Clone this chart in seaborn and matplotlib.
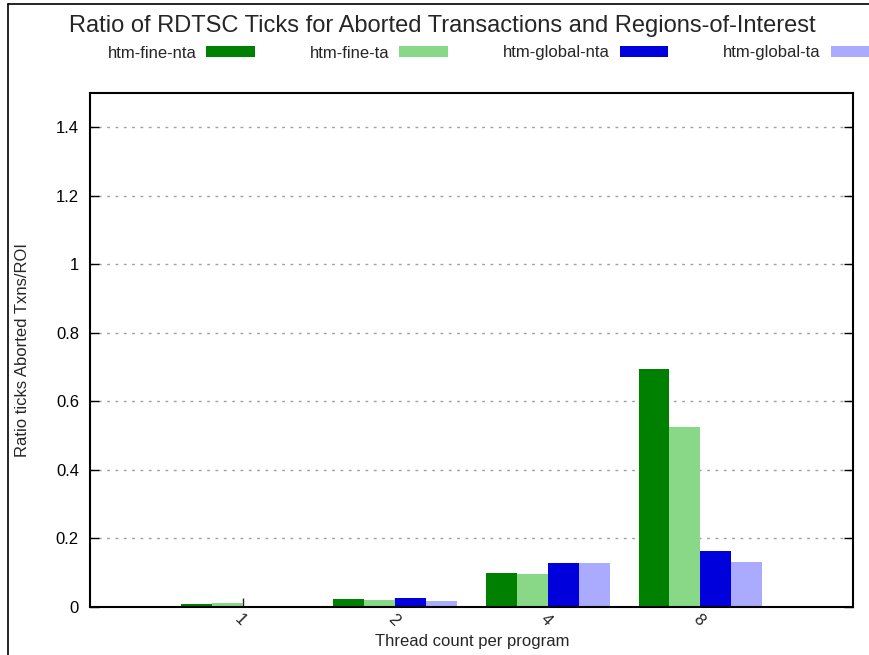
import pandas as pd
import seaborn as sns
import matplotlib.pyplot as plt
from matplotlib.lines import Line2D

threads = ['1', '2', '4', '8']
fine_nta = [0.009, 0.023, 0.099, 0.694]
fine_ta = [0.011, 0.020, 0.096, 0.525]
global_nta = [0.004, 0.026, 0.128, 0.163]
global_ta = [0.003, 0.017, 0.128, 0.131]
series = ['htm-fine-nta', 'htm-fine-ta', 'htm-global-nta', 'htm-global-ta']
colors = ['#008000', '#88d888', '#0000dd', '#aaaaff']

rows = []
for name, vals in zip(series, [fine_nta, fine_ta, global_nta, global_ta]):
    for t, v in zip(threads, vals):
        rows.append({'threads': t, 'ratio': v, 'series': name})
df = pd.DataFrame(rows)

sns.set_style('white')
plt.rcParams['font.family'] = ['Liberation Sans', 'DejaVu Sans']
plt.rcParams['font.size'] = 12

fig = plt.figure(figsize=(8.7, 6.55), dpi=100)
ax = fig.add_axes([90 / 870, 1 - 607 / 655, 763 / 870, 514 / 655])

sns.barplot(data=df, x='threads', y='ratio', hue='series', palette=colors,
            saturation=1, width=0.81, linewidth=0, ax=ax, legend=True)

ax.set_xlim(-1, 4)
ax.set_ylim(0, 1.5)
ax.set_yticks([0, 0.2, 0.4, 0.6, 0.8, 1.0, 1.2, 1.4])
ax.set_yticklabels(['0', '0.2', '0.4', '0.6', '0.8', '1', '1.2', '1.4'])
for y in [0.2, 0.4, 0.6, 0.8, 1.0, 1.2, 1.4]:
    ax.axhline(y, color='#a0a0a0', lw=1, ls=(0, (2, 4)), zorder=0)

ax.tick_params(axis='y', direction='in', length=6.5, width=1, left=True, right=True,
               labelsize=12, pad=8, colors='black')
ax.tick_params(axis='x', direction='in', length=6.5, width=1, bottom=True,
               labelsize=12, pad=3)
for lab in ax.get_xticklabels():
    lab.set_rotation(-45)
    lab.set_ha('left')
    lab.set_va('top')
    lab.set_rotation_mode('anchor')

for s in ax.spines.values():
    s.set_color('black')
    s.set_linewidth(1.5)

ax.set_xlabel('Thread count per program', fontsize=12)
ax.set_ylabel('Ratio ticks Aborted Txns/ROI', fontsize=12)
ax.xaxis.set_label_coords(0.501, -0.053)
ax.yaxis.set_label_coords(-0.078, 0.5)

handles, labels = ax.get_legend_handles_labels()
ax.get_legend().remove()
fig.legend(handles, labels, ncol=4, loc='center', bbox_to_anchor=(0.567, 1 - 53 / 655),
           frameon=False, markerfirst=False, handlelength=2.9, handleheight=0.65,
           handletextpad=0.6, columnspacing=3.3, fontsize=12)

fig.text(0.508, 1 - 26 / 655, 'Ratio of RDTSC Ticks for Aborted Transactions and Regions-of-Interest',
         ha='center', va='center', fontsize=17)

# outer frame (partly off the page, like the original)
fig.add_artist(Line2D([8 / 870, 8 / 870], [0, 1 - 4 / 655], color='black', lw=1.2, transform=fig.transFigure))
fig.add_artist(Line2D([8 / 870, 1], [1 - 4 / 655, 1 - 4 / 655], color='black', lw=1.2, transform=fig.transFigure))

fig.savefig('out.png', dpi=100)
